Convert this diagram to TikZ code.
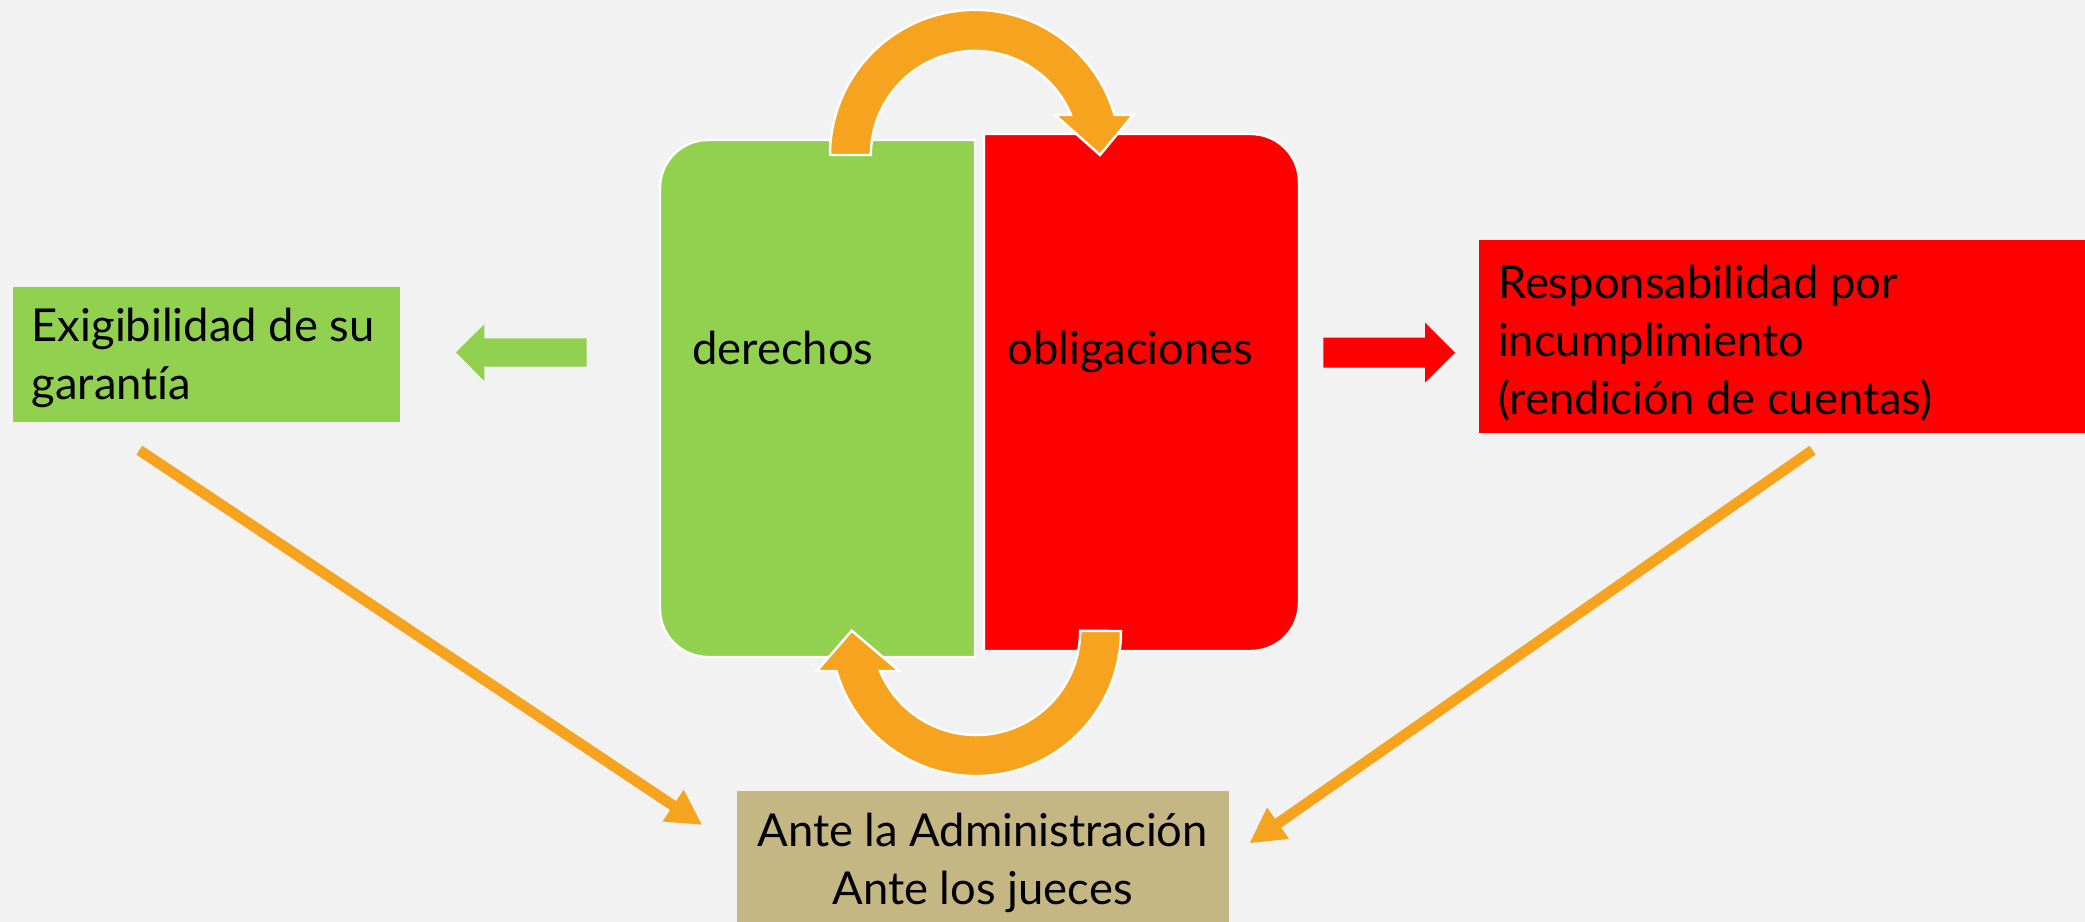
\documentclass[tikz,border=0pt]{standalone}
\usepackage{fontspec}
\setmainfont{Lato}[Ligatures=NoCommon]
\usetikzlibrary{arrows.meta}
\definecolor{bg}{HTML}{F2F2F2}
\definecolor{lgreen}{HTML}{92D050}
\definecolor{cred}{HTML}{FF0000}
\definecolor{corange}{HTML}{F6A31F}
\definecolor{ctan}{HTML}{C4B783}
\begin{document}
\begin{tikzpicture}[x=0.01cm,y=0.01cm,
  txt/.style={font=\fontsize{12.9}{16.5}\selectfont, text=black},
  sidebox/.style={txt, anchor=north west, align=flush left, inner xsep=0.19cm, inner ysep=0},
  halfbox/.style={draw=white, line width=0.7pt},
  curvedarrow/.style={fill=corange, draw=white, line width=0.7pt},
  smallarrow/.style={line join=round},
  longarrow/.style={draw=corange, line width=0.107cm, -{Triangle[length=0.35cm,width=0.355cm]}}]
\fill[bg] (0,0) rectangle (2085,922);
\useasboundingbox (0,0) rectangle (2085,922);

% central halves
\path[halfbox, fill=lgreen] (975,782) -- (708,782) arc[start angle=90, end angle=180, radius=0.48cm]
  -- (660,313) arc[start angle=180, end angle=270, radius=0.48cm] -- (975,265) -- cycle;
\path[halfbox, fill=cred] (984,788) -- (1251,788) arc[start angle=90, end angle=0, radius=0.48cm]
  -- (1299,319) arc[start angle=0, end angle=-90, radius=0.48cm] -- (984,271) -- cycle;
\node[txt, anchor=base west, inner sep=0] (der) at (691.5,557) {derechos};
\node[txt, anchor=base west, inner sep=0] (obl) at (1006.6,557) {obligaciones};

% curved arrows
\path[curvedarrow] (830,767) arc[start angle=180, end angle=16.01, radius=1.45cm]
  -- (1133,807) -- (1100,767) -- (1055,807) -- (1071,807)
  arc[start angle=22.62, end angle=180, radius=1.04cm] -- cycle;
\path[curvedarrow] (1121,291) arc[start angle=0, end angle=-163.99, radius=1.45cm]
  -- (816.7,251) -- (851.7,291.3) -- (899.3,251) -- (880,251)
  arc[start angle=-157.38, end angle=0, radius=1.04cm] -- cycle;

% small arrows
\fill[lgreen, smallarrow] (456,569.7) -- (484.3,597.7) -- (484.3,583.7) -- (586.7,583.7)
  -- (586.7,555.3) -- (484.3,555.3) -- (484.3,541) -- cycle;
\fill[cred, smallarrow] (1455,569.3) -- (1425,599.3) -- (1425,584.3) -- (1323.3,584.3)
  -- (1323.3,554.3) -- (1425,554.3) -- (1425,539.3) -- cycle;

% side boxes
\node[sidebox, fill=lgreen, text width=3.486cm, minimum height=1.357cm] (exig) at (12,636)
  {\rule{0pt}{0.395cm}Exigibilidad de su\\garantía};
\node[sidebox, fill=cred, text width=5.699cm, minimum height=1.937cm] (resp) at (1478.3,683)
  {\rule{0pt}{0.455cm}Responsabilidad por\\incumplimiento\\(rendición de cuentas)};
\node[txt, fill=ctan, anchor=north, align=flush center, inner sep=0, text width=4.919cm,
  minimum height=1.32cm] (ante) at (982.6,132)
  {\rule{0pt}{0.46cm}Ante la Administración\\Ante los jueces};

% long arrows
\coordinate (l1) at (139.3,471.8);
\coordinate (l2) at (702.3,97);
\coordinate (r1) at (1812.5,471.8);
\coordinate (r2) at (1249.3,78.7);
\draw[longarrow] (l1) -- (l2);
\draw[longarrow] (r1) -- (r2);
\end{tikzpicture}
\end{document}
